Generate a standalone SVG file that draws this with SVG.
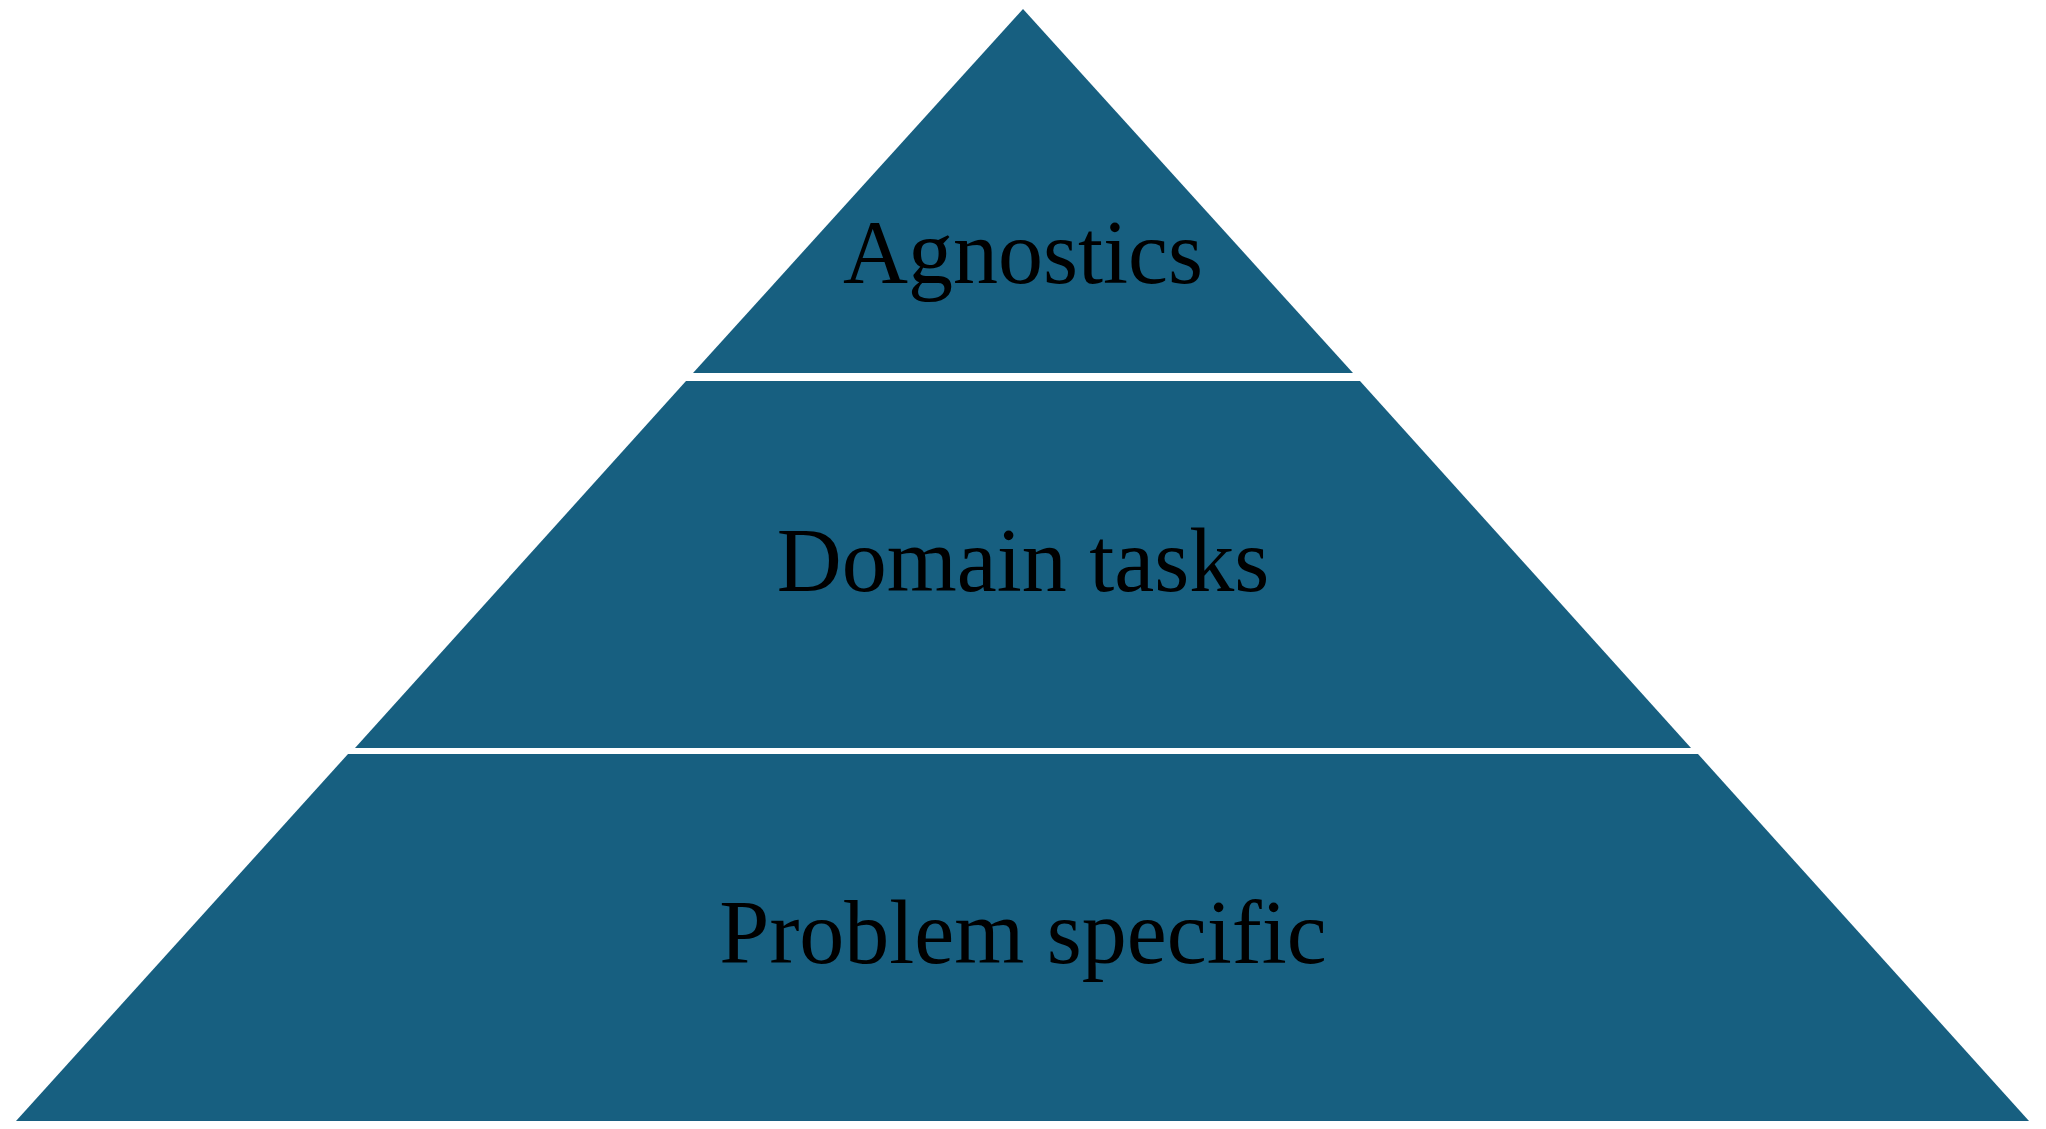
<svg xmlns="http://www.w3.org/2000/svg" width="2046" height="1129" viewBox="0 0 2046 1129">
<style>
.tier{fill:#175f80}
.lbl{font-family:"Liberation Serif",serif;font-size:90px;fill:#000;text-anchor:middle}
</style>
<rect width="2046" height="1129" fill="#fff"/>
<g id="tier-top"><polygon class="tier" points="1023,9 1353,373 693,373"/><text class="lbl" x="1023" y="283">Agnostics</text></g>
<g id="tier-middle"><polygon class="tier" points="686,381 1360,381 1691,748 355,748"/><text class="lbl" x="1023" y="591">Domain tasks</text></g>
<g id="tier-bottom"><polygon class="tier" points="348,754 1698,754 2029,1121 16,1121"/><text class="lbl" x="1023" y="963">Problem specific</text></g>
<g id="connectors"/>
</svg>
